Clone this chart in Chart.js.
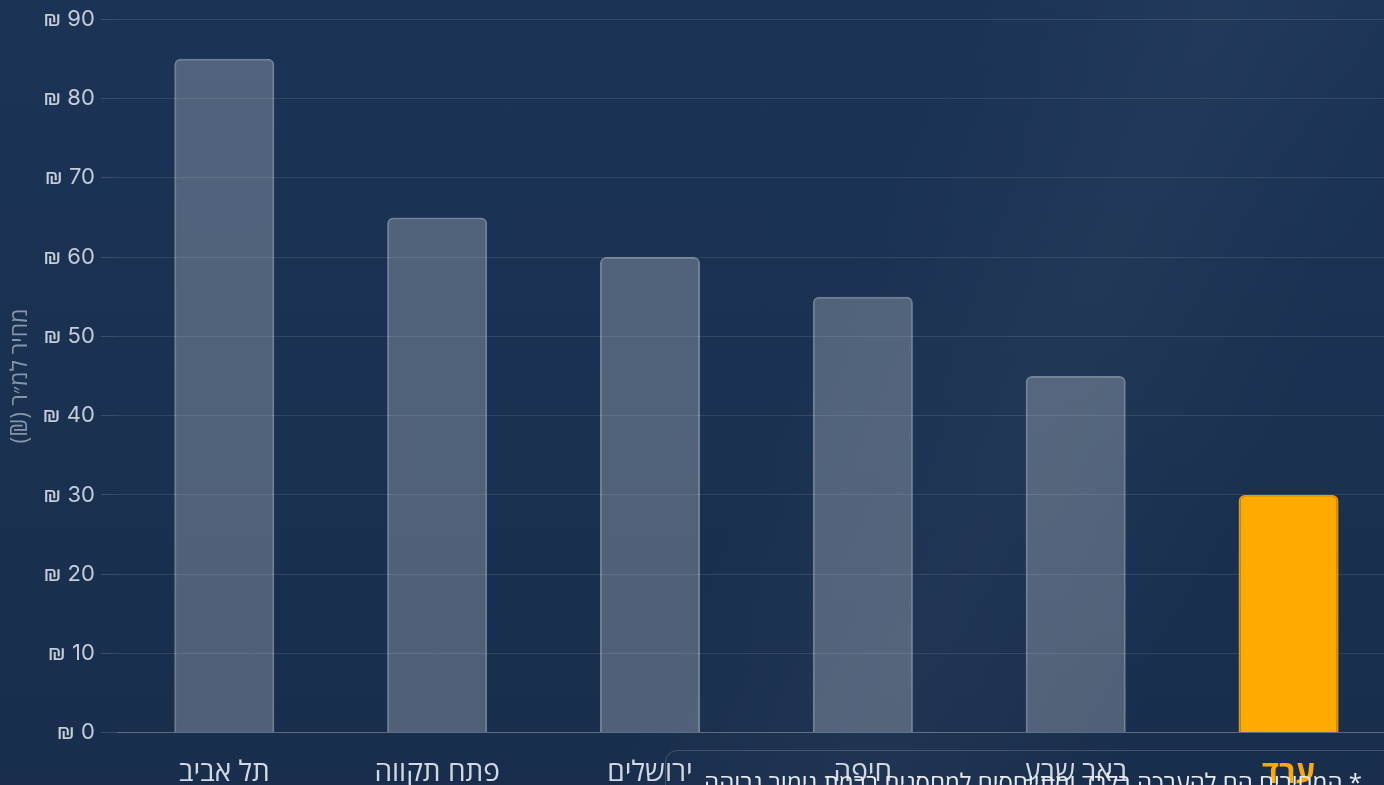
<!DOCTYPE html>
<html lang="he">
<head>
<meta charset="utf-8">
<title>מחיר למ״ר למחסנים</title>
<script src="https://cdn.jsdelivr.net/npm/chart.js@4.4.1/dist/chart.umd.min.js"></script>
<style>
  html, body {
    margin: 0;
    width: 1384px;
    height: 785px;
    overflow: hidden;
    background: #1a3050;
    font-family: "Open Sans", "Noto Sans", sans-serif;
  }
  #bg {
    position: absolute; left: 0; top: 0; width: 1384px; height: 785px;
    background:
      linear-gradient(115deg, rgba(255,255,255,0) 55%, rgba(255,255,255,0.03) 70%, rgba(255,255,255,0) 85%),
      linear-gradient(180deg, #1b3355 0%, #1a3151 50%, #192e4d 100%);
  }
  #wrap {
    position: absolute; left: 0; top: 0;
    width: 1395px; height: 808px;
  }
  #note {
    position: absolute; left: 665px; top: 750px;
    width: 780px; height: 80px;
    border: 1px solid rgba(255,255,255,0.18);
    border-radius: 12px;
    direction: rtl;
    box-sizing: border-box;
    padding: 14px 82px 0 0;
    color: #e8ecf2;
    font-size: 24px;
    white-space: nowrap;
  }
</style>
</head>
<body>
<div id="bg"></div>
<div id="wrap"><canvas id="chart"></canvas></div>
<div id="note">* המחירים הם להערכה בלבד ומתייחסים למחסנים ברמת גימור גבוהה</div>
<script>
// data
const cities = ['תל אביב', 'פתח תקווה', 'ירושלים', 'חיפה', 'באר שבע', 'ערד'];
const pricePerSqm = [85, 65, 60, 55, 45, 30];
const highlight = 'ערד';
const yTitle = 'מחיר למ״ר (₪)';

const barFill = cities.map(c => c === highlight ? '#ffaa00' : 'rgba(255,255,255,0.24)');
const barEdge = cities.map(c => c === highlight ? '#e59a00' : 'rgba(255,255,255,0.38)');

const ctx = document.getElementById('chart').getContext('2d');
new Chart(ctx, {
  type: 'bar',
  data: {
    labels: cities,
    datasets: [{
      data: pricePerSqm,
      backgroundColor: barFill,
      borderColor: barEdge,
      borderWidth: 2,
      borderSkipped: 'bottom',
      borderRadius: { topLeft: 6, topRight: 6 },
      categoryPercentage: 0.94,
      barPercentage: 0.5
    }]
  },
  options: {
    responsive: true,
    maintainAspectRatio: false,
    animation: false,
    layout: { padding: { top: 10, left: 3, right: 0, bottom: 0 } },
    plugins: { legend: { display: false }, tooltip: { enabled: false } },
    scales: {
      x: {
        grid: { display: false },
        border: { color: 'rgba(255,255,255,0.22)', width: 1 },
        ticks: {
          padding: 15,
          color: ctx => cities[ctx.index] === highlight ? '#ffaa00' : '#d3d9e2',
          font: ctx => cities[ctx.index] === highlight
            ? { family: 'Open Sans', size: 31, weight: 'bold' }
            : { family: 'Open Sans', size: 28 }
        }
      },
      y: {
        min: 0,
        max: 90,
        ticks: {
          stepSize: 10,
          padding: 6,
          color: '#c5cdd8',
          font: { family: 'Inter', size: 22 },
          callback: v => '₪ ' + v
        },
        grid: {
          color: 'rgba(255,255,255,0.1)',
          tickColor: 'rgba(255,255,255,0.14)',
          tickLength: 17
        },
        border: { display: false },
        title: {
          display: true,
          // RTL embedding so the rotated title reads as in the original
          text: '\u202B' + yTitle + '\u202C',
          color: '#8795a8',
          font: { family: 'Open Sans', size: 23 },
          padding: { bottom: 2 }
        }
      }
    }
  }
});
</script>
</body>
</html>
